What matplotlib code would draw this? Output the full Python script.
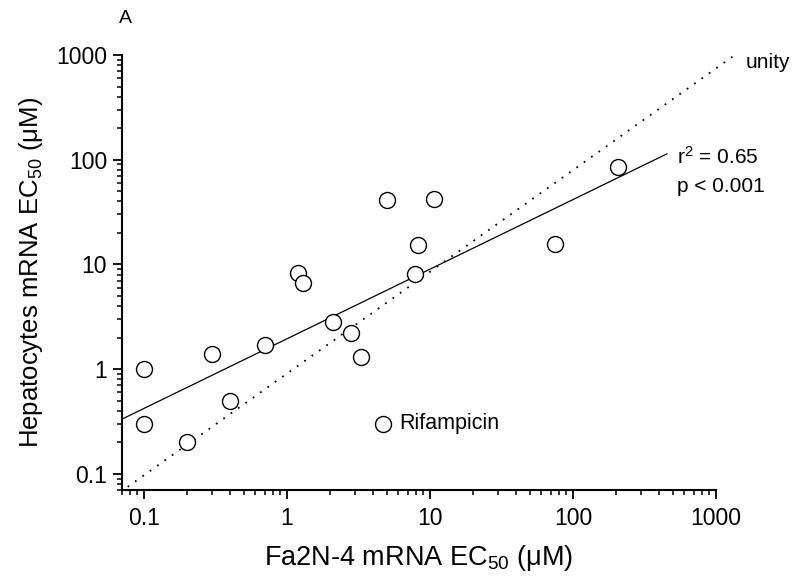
import numpy as np
import matplotlib
matplotlib.use("Agg")
import matplotlib.pyplot as plt
from matplotlib.ticker import LogLocator, FixedLocator, NullFormatter

plt.rcParams['font.family'] = ['Liberation Sans', 'DejaVu Sans']
plt.rcParams['mathtext.fontset'] = 'custom'
plt.rcParams['mathtext.rm'] = 'Liberation Sans'
plt.rcParams['mathtext.it'] = 'Liberation Sans:italic'

# EC50 values (uM)
fa2n4_ec50 = [0.1, 0.1, 0.2, 0.3, 0.4, 0.7, 1.2, 1.3, 2.1, 2.8, 3.3, 5.0, 10.6, 8.2, 7.8, 75, 207]
hep_ec50 = [1.0, 0.3, 0.2, 1.4, 0.5, 1.7, 8.2, 6.7, 2.8, 2.2, 1.3, 41, 42.5, 15.2, 8.1, 15.5, 85]

rif_fa2n4 = 4.7
rif_hep = 0.3

# log-log regression line (log10 y = intercept + slope * log10 x)
fit_slope = 0.665
fit_intercept = 0.289
fit_x_range = [0.07, 453]

# unity line as drawn in the figure
unity_x = [0.077, 1410]
unity_y = [0.075, 1040]

ticks = [0.1, 1, 10, 100, 1000]
tick_labels = ["0.1", "1", "10", "100", "1000"]

fig = plt.figure(figsize=(7.96, 5.77), dpi=100)
ax = fig.add_axes([0.153, 0.1508, 0.7465, 0.7539])

ax.set_xscale('log')
ax.set_yscale('log')
ax.set_xlim(0.07, 1000)
ax.set_ylim(0.07, 1000)

# unity line
ax.plot(unity_x, unity_y, color='black', lw=1.3, linestyle=(0, (1, 4)), clip_on=False)

# regression line
fx = np.array(fit_x_range)
fy = 10 ** (fit_intercept + fit_slope * np.log10(fx))
ax.plot(fx, fy, color='black', lw=0.9)

ax.plot(fa2n4_ec50, hep_ec50, 'o', mfc='white', mec='black', ms=11.5, mew=1.0, zorder=3)
ax.plot([rif_fa2n4], [rif_hep], 'o', mfc='white', mec='black', ms=11.5, mew=1.0, zorder=3)
ax.annotate("Rifampicin", (rif_fa2n4, rif_hep), xytext=(12, 0), textcoords='offset points',
            va='center', ha='left', fontsize=15.5)

for side in ['top', 'right']:
    ax.spines[side].set_visible(False)
for side in ['left', 'bottom']:
    ax.spines[side].set_linewidth(1.5)

for axis in [ax.xaxis, ax.yaxis]:
    axis.set_major_locator(FixedLocator(ticks))
    axis.set_minor_locator(LogLocator(base=10, subs=np.arange(2, 10), numticks=20))
    axis.set_minor_formatter(NullFormatter())
ax.set_xticklabels(tick_labels)
ax.set_yticklabels(tick_labels)

ax.tick_params(which='major', direction='out', length=6.5, width=1.3, labelsize=16.5, pad=4)
ax.tick_params(which='minor', direction='out', length=3.6, width=1.1)
ax.tick_params(axis='x', which='major', pad=6)

ax.set_xlabel("Fa2N-4 mRNA EC$_{50}$ (μM)", fontsize=19.5, labelpad=9)
ax.set_ylabel("Hepatocytes mRNA EC$_{50}$ (μM)", fontsize=18.5, labelpad=8)

fig.text(0.937, 0.8925, "unity", fontsize=15, ha='left', va='center')
fig.text(0.8505, 0.7284, "r$^{2}$ = 0.65", fontsize=15, ha='left', va='center')
fig.text(0.8505, 0.6764, "p < 0.001", fontsize=15, ha='left', va='center')
fig.text(0.157, 0.968, "A", fontsize=14, ha='center', va='center')

fig.savefig("out.png", dpi=100)
